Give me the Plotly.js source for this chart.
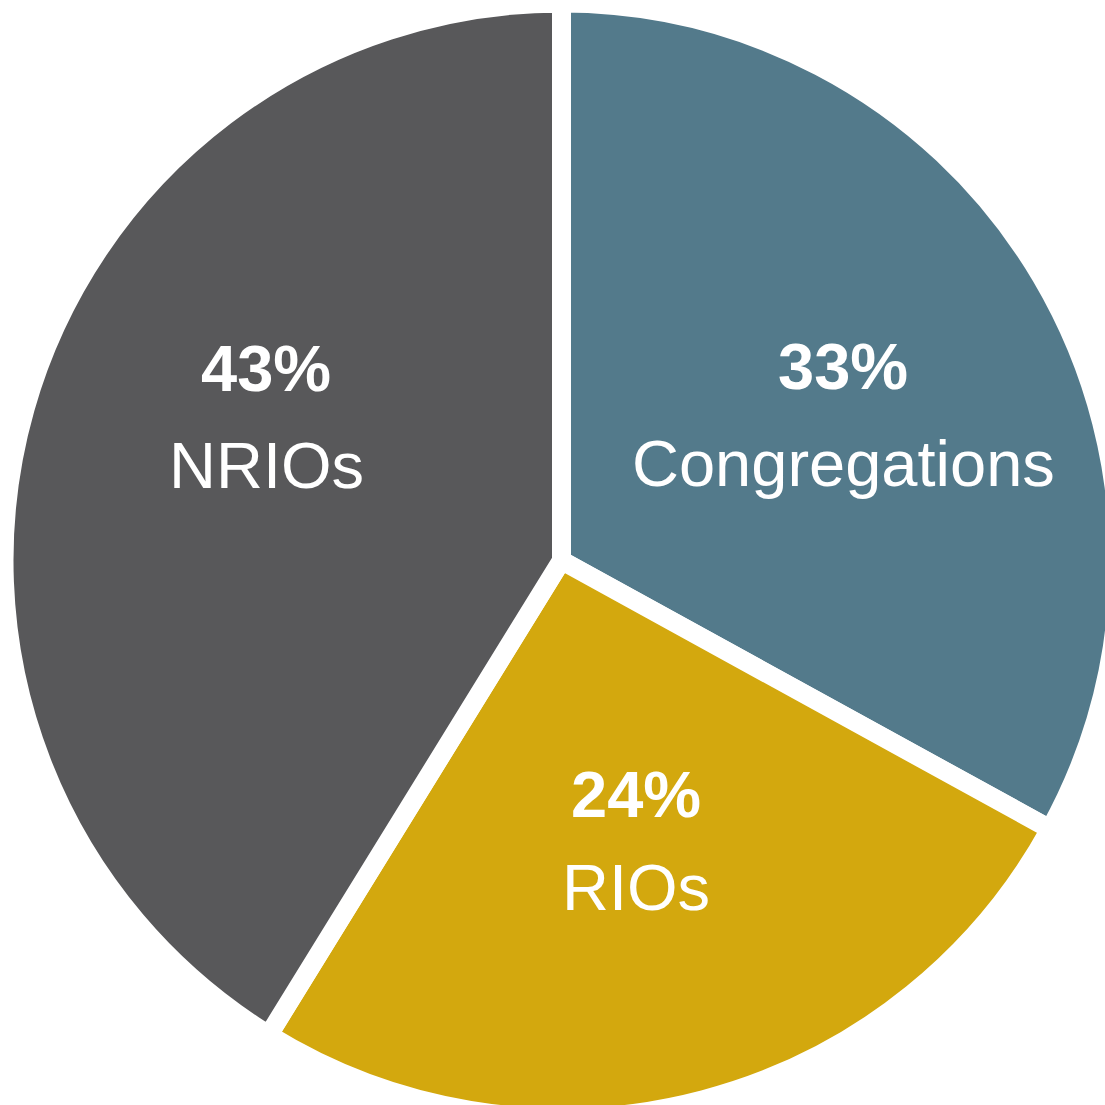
<!DOCTYPE html>
<html>
<head>
<meta charset="utf-8">
<script src="https://cdn.plot.ly/plotly-3.0.1.min.js"></script>
<style>
  html, body { margin: 0; padding: 0; width: 1105px; height: 1105px; overflow: hidden; background: #ffffff; }
  #chart { position: absolute; left: 4px; top: 3px; }
</style>
</head>
<body>
<div id="chart"></div>
<script>
// ---- data ----
const categories = ['Congregations', 'RIOs', 'NRIOs'];
// share of the circle each slice occupies (measured from the slice angles)
const sliceShares = [33.0, 25.8, 41.2];
// percentages printed on the chart
const pctLabels = ['33%', '24%', '43%'];
const sliceColors = ['#537A8B', '#D3A80E', '#58585A'];

// ---- layout ----
const SIZE = 1115;        // plot div size (pie larger than window, cropped)
const OFF_X = 4, OFF_Y = 3;
const FONT = 'Liberation Sans, Arial, sans-serif';

// label positions in page pixels (centre of pct line, centre of name line)
const labelPos = {
  'Congregations': {x: 843, pctY: 366, nameY: 463},
  'RIOs':          {x: 636, pctY: 794, nameY: 887},
  'NRIOs':         {x: 266, pctY: 368, nameY: 465}
};
const px = x => (x - OFF_X) / SIZE;
const py = y => 1 - (y - OFF_Y) / SIZE;

const annotations = [];
categories.forEach((c, i) => {
  const p = labelPos[c];
  annotations.push({
    text: '<b>' + pctLabels[i] + '</b>', xref: 'paper', yref: 'paper',
    x: px(p.x), y: py(p.pctY), xanchor: 'center', yanchor: 'middle',
    showarrow: false, font: {family: FONT, size: 65, color: '#ffffff'}
  });
  annotations.push({
    text: c, xref: 'paper', yref: 'paper',
    x: px(p.x), y: py(p.nameY), xanchor: 'center', yanchor: 'middle',
    showarrow: false, font: {family: FONT, size: 65, color: '#ffffff'}
  });
});

const trace = {
  type: 'pie',
  labels: categories,
  values: sliceShares,
  sort: false,
  direction: 'clockwise',
  rotation: 0,
  textinfo: 'none',
  hoverinfo: 'label+percent',
  marker: { colors: sliceColors, line: { color: '#ffffff', width: 19 } },
  showlegend: false
};

const layout = {
  width: SIZE, height: SIZE,
  margin: {l: 0, r: 0, t: 0, b: 0, pad: 0},
  paper_bgcolor: 'rgba(0,0,0,0)',
  plot_bgcolor: 'rgba(0,0,0,0)',
  showlegend: false,
  annotations: annotations,
  font: {family: FONT}
};

Plotly.newPlot('chart', [trace], layout, {displayModeBar: false, staticPlot: true});
</script>
</body>
</html>
